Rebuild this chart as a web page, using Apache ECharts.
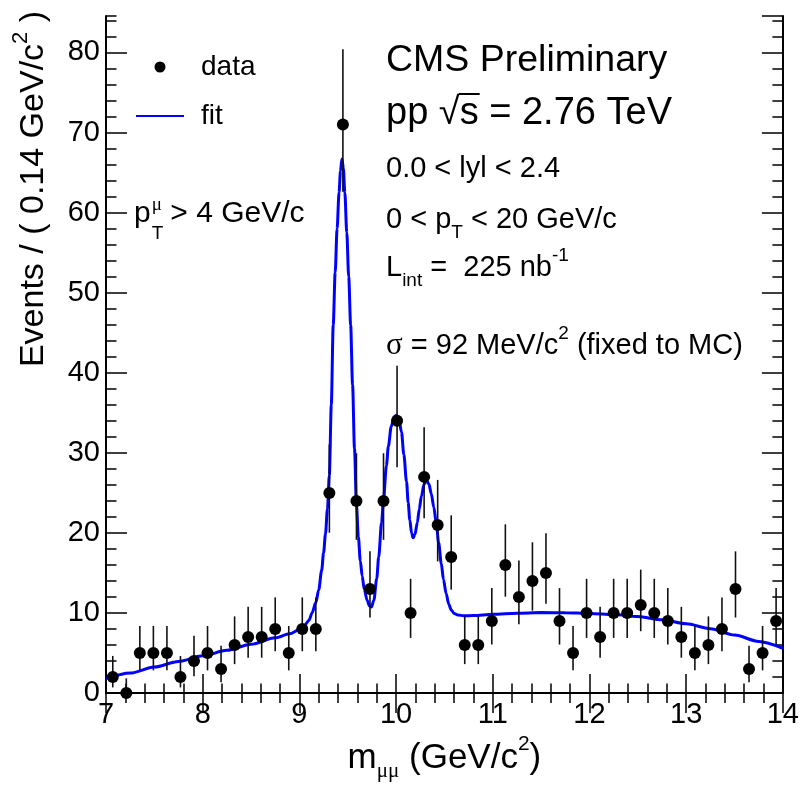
<!DOCTYPE html>
<html>
<head>
<meta charset="utf-8">
<script src="https://cdn.jsdelivr.net/npm/echarts@6/dist/echarts.min.js"></script>
<style>html,body{margin:0;padding:0;background:#fff}#c{width:802px;height:787px}</style>
</head>
<body>
<div id="c"></div>
<script>
// ---- data ----
const massBins = [7.07,7.21,7.35,7.49,7.63,7.77,7.91,8.05,8.19,8.33,8.47,8.61,8.75,8.89,9.03,9.17,9.31,9.45,9.59,9.73,
  9.87,10.01,10.15,10.29,10.43,10.57,10.71,10.85,10.99,11.13,11.27,11.41,11.55,11.69,11.83,11.97,12.11,12.25,12.39,12.53,
  12.67,12.81,12.95,13.09,13.23,13.37,13.51,13.65,13.79,13.93];
const counts = [2,0,5,5,5,2,4,5,3,6,7,7,8,5,8,8,25,71,24,13,
  24,34,10,27,21,17,6,6,9,16,12,14,15,9,5,10,7,10,10,11,
  10,9,7,5,6,8,13,3,5,9];
const errLow = [0.71,0,2.84,2.84,2.84,0.71,2.09,2.84,1.37,3.62,4.42,4.42,5.23,2.84,5.23,5.23,20.03,62.6,19.14,9.44,
  19.14,28.2,6.89,21.84,16.45,12.92,3.62,3.62,6.06,12.04,8.59,10.30,11.17,6.06,2.84,6.89,4.42,6.89,6.89,7.73,
  6.89,6.06,4.42,2.84,3.62,5.23,9.44,1.37,2.84,6.06];
const errHigh = [4.64,1.84,8.38,8.38,8.38,4.64,7.16,8.38,5.92,9.58,10.77,10.77,11.95,8.38,11.95,11.95,31.06,80.4,29.95,17.70,
  29.95,40.87,14.27,33.19,26.62,22.20,9.58,9.58,13.11,21.08,16.56,18.83,19.96,13.11,8.38,14.27,10.77,14.27,14.27,15.42,
  14.27,13.11,10.77,8.38,9.58,11.95,17.70,5.92,8.38,13.11];
const fitMass = [7.0,7.25,7.5,7.75,8.0,8.25,8.5,8.75,8.9,9.0,9.05,9.1,9.13,9.17,9.2,9.23,9.25,9.27,9.29,9.31,
  9.33,9.35,9.37,9.39,9.41,9.425,9.44,9.455,9.47,9.49,9.51,9.53,9.55,9.57,9.59,9.61,9.63,9.65,9.67,9.70,
  9.725,9.745,9.77,9.80,9.82,9.85,9.87,9.90,9.92,9.95,9.98,10.005,10.03,10.056,10.08,10.108,10.125,10.142,10.16,10.176,
  10.195,10.22,10.24,10.262,10.29,10.313,10.34,10.364,10.39,10.416,10.44,10.467,10.49,10.518,10.545,10.57,10.60,10.64,10.70,10.80,
  11.0,11.25,11.5,11.75,12.0,12.25,12.5,12.75,13.0,13.25,13.5,13.75,14.0];
const fitValue = [1.8,2.5,3.25,3.95,4.65,5.35,6.1,6.9,7.4,7.95,8.4,9.1,10.0,11.3,12.9,15.3,17.5,19.9,23.0,27.2,
  36.0,46.0,52.5,58.0,62.5,65.2,66.7,65.5,62.5,57.5,52.0,46.0,38.5,30.5,23.5,19.5,16.5,14.6,13.0,11.6,
  10.9,10.75,11.6,14.3,17.0,21.3,24.2,28.4,30.8,33.3,34.5,34.7,34.1,32.6,29.8,26.4,23.8,21.6,20.0,19.4,
  19.8,21.3,23.0,24.6,26.1,26.6,26.1,24.9,23.2,21.2,18.8,16.2,14.2,12.4,11.1,10.4,9.95,9.75,9.66,9.68,
  9.85,9.98,10.05,10.03,9.95,9.8,9.55,9.15,8.65,8.05,7.25,6.45,5.6];
const yLabels = ['0','10','20','30','40','50','60','70','80'];

// ---- styling ----
const FONT = "'Liberation Sans', Arial, Helvetica, sans-serif";
const SERIF = "'Liberation Serif', 'DejaVu Serif', serif";
const yMax = 84.55;

const mctx = document.createElement('canvas').getContext('2d');
function tw(str, size, fam) { mctx.font = size + 'px ' + fam; return mctx.measureText(str).width; }

const frameLine = { show: true, lineStyle: { color: '#000', width: 2 } };
const tickStyle = { color: '#000', width: 1.5 };

const richSmall = {
  sub: { fontSize: 19, fontFamily: FONT, lineHeight: 20, verticalAlign: 'bottom', fill: '#000', color: '#000' },
  sup: { fontSize: 19, fontFamily: FONT, lineHeight: 30, verticalAlign: 'top', fill: '#000', color: '#000' },
  g: { fontSize: 31, fontFamily: SERIF, lineHeight: 44, fill: '#000', color: '#000' }
};

function label(x, y, text, size, rich, lh) {
  return {
    type: 'text', x: x, y: y, z: 100,
    style: { text: text, fontSize: size, fontFamily: FONT, fill: '#000', lineHeight: lh || 44,
             align: 'left', verticalAlign: 'middle', rich: rich || {} }
  };
}

const TX = 386;
const ppX = TX, ppY = 114, ppSize = 38;
const sqrtStart = ppX + tw('pp \u221A', ppSize, FONT);
const sWidth = tw('s', ppSize, FONT);

const pX = 134, pSize = 30;
const pW = tw('p', pSize, FONT);
const tW = tw('T', 19, FONT);
const SM = 29;

const graphics = [
  label(TX, 61, 'CMS Preliminary', 37.5, null, 44),
  label(ppX, ppY, 'pp \u221As = 2.76 TeV', ppSize, null, 44),
  { type: 'line', z: 100, shape: { x1: sqrtStart - 1, y1: 94, x2: sqrtStart + sWidth + 1, y2: 94 },
    style: { stroke: '#000', lineWidth: 2 } },
  label(TX, 169, '0.0 < lyl < 2.4', SM),
  label(TX, 220, '0 < p{sub|T} < 20 GeV/c', SM, richSmall),
  label(TX, 268, 'L{sub|int} =  225 nb{sup|-1}', SM, richSmall),
  label(TX, 346, '{g|\u03C3} = 92 MeV/c{sup|2} (fixed to MC)', SM, richSmall),
  // p_T^mu > 4 GeV/c
  label(pX, 214, 'p', pSize),
  { type: 'text', z: 100, x: pX + pW + 1, y: 205,
    style: { text: '\u03BC', fontSize: 19, fontFamily: SERIF, fill: '#000', align: 'left', verticalAlign: 'middle' } },
  { type: 'text', z: 100, x: pX + pW + 1, y: 234,
    style: { text: 'T', fontSize: 19, fontFamily: FONT, fill: '#000', align: 'left', verticalAlign: 'middle' } },
  label(pX + pW + tW + 8, 214, '> 4 GeV/c', pSize),
  // y axis title
  { type: 'text', z: 100, x: 34, y: 189, rotation: Math.PI / 2,
    style: { text: 'Events / ( 0.14 GeV/c{sup|2} )', fontSize: 34, fontFamily: FONT, fill: '#000',
             lineHeight: 48, align: 'center', verticalAlign: 'middle',
             rich: { sup: { fontSize: 22, fontFamily: FONT, lineHeight: 34, verticalAlign: 'top', fill: '#000' } } } }
];

function yLabelFmt(v) {
  const idx = Math.round(v / 10);
  return Math.abs(v - idx * 10) < 1e-6 && yLabels[idx] !== undefined ? yLabels[idx] : '';
}

const chart = echarts.init(document.getElementById('c'), null, { renderer: 'canvas' });
const option = {
  animation: false,
  backgroundColor: '#fff',
  grid: { left: 106, right: 14, top: 16, bottom: 89 },
  legend: {
    orient: 'vertical', left: 136, top: 52, padding: 0,
    itemWidth: 48, itemHeight: 11, itemGap: 19, selectedMode: false,
    textStyle: { fontSize: 28, fontFamily: FONT, color: '#000', lineHeight: 30, padding: [0, 0, 0, 12] },
    data: [
      { name: 'data', icon: 'circle', itemStyle: { color: '#000', opacity: 1 } },
      { name: 'fit', icon: 'path://M0,0L48,0L48,2L0,2Z', itemStyle: { color: '#0000ff' } }
    ]
  },
  xAxis: [
    { type: 'value', position: 'bottom', min: 7, max: 14, interval: 1,
      axisLine: frameLine,
      axisTick: { inside: true, length: 19, lineStyle: tickStyle },
      minorTick: { show: true, splitNumber: 5, length: 9.5, lineStyle: tickStyle },
      splitLine: { show: false }, minorSplitLine: { show: false },
      axisLabel: { fontSize: 29, fontFamily: FONT, color: '#000', margin: 7 },
      name: '{a|m}{s|\u03BC\u03BC}{a| (GeV/c}{p|2}{a|)}',
      nameLocation: 'middle', nameGap: 18,
      nameTextStyle: { rich: {
        a: { fontSize: 35, fontFamily: FONT, color: '#000', lineHeight: 48 },
        s: { fontSize: 21, fontFamily: SERIF, color: '#000', lineHeight: 22, verticalAlign: 'bottom' },
        p: { fontSize: 21, fontFamily: FONT, color: '#000', lineHeight: 36, verticalAlign: 'top' } } } },
    { type: 'value', position: 'top', min: 7, max: 14, interval: 1,
      axisLine: frameLine,
      axisTick: { inside: true, length: 20, lineStyle: tickStyle },
      minorTick: { show: true, splitNumber: 5, length: 10, lineStyle: tickStyle },
      splitLine: { show: false }, minorSplitLine: { show: false },
      axisLabel: { show: false } }
  ],
  yAxis: [
    { type: 'value', position: 'left', min: 0, max: yMax, interval: 10,
      axisLine: frameLine,
      axisTick: { inside: true, length: 21, lineStyle: tickStyle },
      splitLine: { show: false },
      axisLabel: { fontSize: 29, fontFamily: FONT, color: '#000', margin: 6, formatter: yLabelFmt, showMaxLabel: false } },
    { type: 'value', position: 'left', min: 0, max: yMax, interval: 2,
      axisLine: { show: false },
      axisTick: { inside: true, length: 10.5, lineStyle: tickStyle },
      splitLine: { show: false }, axisLabel: { show: false } },
    { type: 'value', position: 'right', min: 0, max: yMax, interval: 10,
      axisLine: frameLine,
      axisTick: { inside: true, length: 21, lineStyle: tickStyle },
      splitLine: { show: false }, axisLabel: { show: false } },
    { type: 'value', position: 'right', min: 0, max: yMax, interval: 2,
      axisLine: { show: false },
      axisTick: { inside: true, length: 10.5, lineStyle: tickStyle },
      splitLine: { show: false }, axisLabel: { show: false } }
  ],
  series: [
    { name: 'fit', type: 'line', xAxisIndex: 0, yAxisIndex: 0, z: 2,
      data: fitMass.map((m, i) => [m, fitValue[i]]),
      smooth: 0.3, smoothMonotone: 'x', symbol: 'none', showSymbol: false,
      lineStyle: { color: '#0000ff', width: 3 }, itemStyle: { color: '#0000ff' } },
    { name: 'errors', type: 'custom', xAxisIndex: 0, yAxisIndex: 0, z: 3, clip: false,
      data: massBins.map((m, i) => [m, errLow[i], errHigh[i]]),
      encode: { x: 0, y: [1, 2] },
      renderItem: function (params, api) {
        const x = api.value(0);
        const p1 = api.coord([x, api.value(1)]);
        const p2 = api.coord([x, api.value(2)]);
        return { type: 'line', shape: { x1: p1[0], y1: p1[1], x2: p2[0], y2: p2[1] },
                 style: { stroke: '#111', lineWidth: 1.6 } };
      } },
    { name: 'data', type: 'scatter', xAxisIndex: 0, yAxisIndex: 0, z: 4, clip: false,
      data: massBins.map((m, i) => [m, counts[i]]),
      symbol: 'circle', symbolSize: 12, itemStyle: { color: '#000', opacity: 1 } }
  ],
  graphic: { elements: graphics }
};
chart.setOption(option);
</script>
</body>
</html>
